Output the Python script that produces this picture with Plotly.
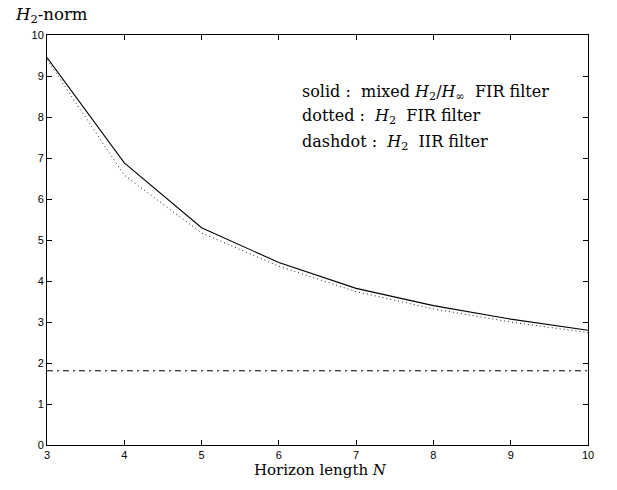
import plotly.graph_objects as go

N = [3, 4, 5, 6, 7, 8, 9, 10]
mixed_fir = [9.45, 6.88, 5.3, 4.45, 3.82, 3.4, 3.07, 2.8]
h2_fir = [9.4, 6.58, 5.17, 4.36, 3.74, 3.32, 3.0, 2.74]
h2_iir = [1.81, 1.81, 1.81, 1.81, 1.81, 1.81, 1.81, 1.81]
xticks = [3, 4, 5, 6, 7, 8, 9, 10]
yticks = [0, 1, 2, 3, 4, 5, 6, 7, 8, 9, 10]

serif = "DejaVu Serif, Liberation Serif, serif"
sans = "Liberation Sans, Arial, sans-serif"

L, R, T, B = 47, 29, 35, 45
W, H = 617, 490
pw = W - L - R
ph = H - T - B

fig = go.Figure()
fig.add_trace(go.Scatter(x=N, y=mixed_fir, mode="lines",
                         line=dict(color="black", width=1.1)))
fig.add_trace(go.Scatter(x=N, y=h2_fir, mode="lines",
                         line=dict(color="#222", width=1, dash="1px,3px")))
fig.add_trace(go.Scatter(x=N, y=h2_iir, mode="lines",
                         line=dict(color="black", width=1, dash="6px,4px,2px,4px")))

axis_common = dict(showline=True, linecolor="black", linewidth=1, mirror="ticks",
                   ticks="inside", ticklen=5, tickcolor="black", showgrid=False,
                   zeroline=False, tickfont=dict(family=sans, size=11, color="black"))
fig.update_xaxes(range=[3, 10], tickvals=xticks, **axis_common)
fig.update_yaxes(range=[0, 10], tickvals=yticks, **axis_common)

fig.update_layout(
    width=W, height=H,
    margin=dict(l=L, r=R, t=T, b=B),
    paper_bgcolor="white", plot_bgcolor="white",
    showlegend=False,
)

labels = [
    "solid :\u00a0 mixed <i>H</i><sub>2</sub>/<i>H</i><sub>∞</sub>\u00a0 FIR filter",
    "dotted :\u00a0 <i>H</i><sub>2</sub>\u00a0 FIR filter",
    "dashdot :\u00a0 <i>H</i><sub>2</sub>\u00a0 IIR filter",
]
ycenters = [92, 117, 142]
for t, yc in zip(labels, ycenters):
    fig.add_annotation(text=t, xref="paper", yref="paper", x=(300 - L) / pw,
                       y=(H - B - yc) / ph,
                       xanchor="left", yanchor="middle", showarrow=False,
                       font=dict(family=serif, size=16, color="black"))

fig.add_annotation(text="<i>H</i><sub>2</sub>-norm", xref="paper", yref="paper",
                   x=(13 - L) / pw, y=(H - B - 16) / ph, xanchor="left", yanchor="middle",
                   showarrow=False, font=dict(family=serif, size=16.5, color="black"))
fig.add_annotation(text="Horizon length <i>N</i>", xref="paper", yref="paper",
                   x=(320 - L) / pw, y=(H - B - 470) / ph, xanchor="center", yanchor="middle",
                   showarrow=False, font=dict(family=serif, size=15, color="black"))

fig.write_html("out.html", post_script="document.body.style.margin='0';",
               config={"displayModeBar": False})
